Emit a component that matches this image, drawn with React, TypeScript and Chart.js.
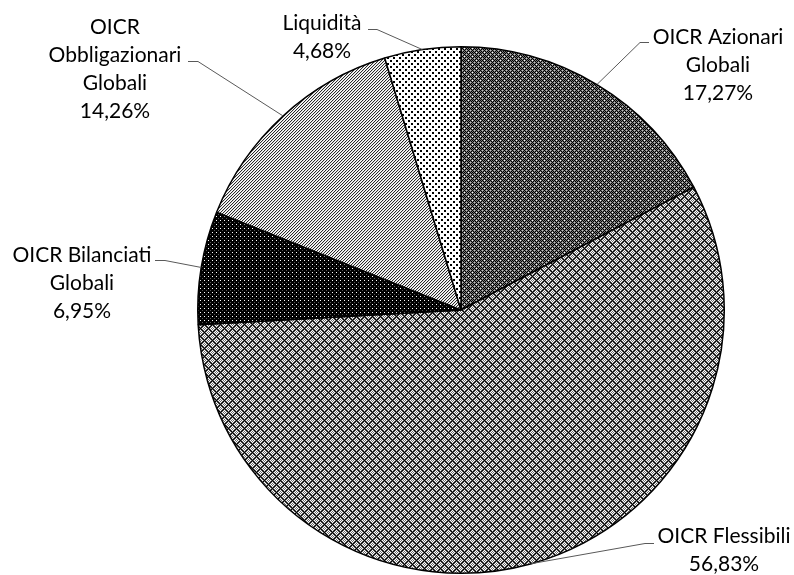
import React, { useEffect, useRef } from "react";
import { Chart, registerables } from "chart.js";

Chart.register(...registerables);

const categories: string[][] = [
  ["OICR Azionari", "Globali"],
  ["OICR Flessibili"],
  ["OICR Bilanciati", "Globali"],
  ["OICR", "Obbligazionari", "Globali"],
  ["Liquidità"],
];
const values: number[] = [17.27, 56.83, 6.95, 14.26, 4.68];

// label layout: text centre x, first baseline y, knee point, text-side end of the horizontal stub
const labelLayout = [
  { cx: 718, by: 44, kx: 640, ky: 42, hx: 649 },
  { cx: 724, by: 543, kx: 645, ky: 543, hx: 654 },
  { cx: 82, by: 262, kx: 165, ky: 260, hx: 155 },
  { cx: 115, by: 34, kx: 198, ky: 61, hx: 188 },
  { cx: 322, by: 30, kx: 377, ky: 29, hx: 368 },
];

function makePattern(size: number, fn: (x: number, y: number) => string): CanvasPattern {
  const c = document.createElement("canvas");
  c.width = size;
  c.height = size;
  const g = c.getContext("2d")!;
  for (let y = 0; y < size; y++) {
    for (let x = 0; x < size; x++) {
      g.fillStyle = fn(x, y);
      g.fillRect(x, y, 1, 1);
    }
  }
  return g.createPattern(c, "repeat")!;
}

function buildPatterns(): CanvasPattern[] {
  const azionari = makePattern(8, (x, y) => {
    if ((x === 0 && y === 0) || (x === 4 && y === 4)) return "#ffffff";
    if ((x === 2 && y === 2) || (x === 6 && y === 6) || (x === 2 && y === 6) || (x === 6 && y === 2)) return "#c0c0c0";
    return (x + y) % 2 === 0 ? "#000000" : "#7a7a7a";
  });
  const flessibili = makePattern(8, (x, y) => {
    if ((x + y) % 8 === 0 || (x - y + 8) % 8 === 0) return (x + y) % 2 === 0 ? "#000000" : "#ffffff";
    return (x + y) % 2 === 0 ? "#ffffff" : "#6a6a6a";
  });
  const bilanciati = makePattern(4, (x, y) => {
    if (x === 0 && y === 0) return "#ffffff";
    if (x === 2 && y === 2) return "#555555";
    return "#000000";
  });
  const obblig = makePattern(3, (x, y) => {
    const k = (x + y) % 3;
    return k === 0 ? "#2a2a2a" : k === 1 ? "#d8d8d8" : "#ffffff";
  });
  const liquidita = makePattern(6, (x, y) => {
    const a = x < 2 && y < 2;
    const b = x >= 3 && x < 5 && y >= 3 && y < 5;
    return a || b ? "#000000" : "#ffffff";
  });
  return [azionari, flessibili, bilanciati, obblig, liquidita];
}

const fmt = (v: number) => v.toFixed(2).replace(".", ",") + "%";

const labelPlugin = {
  id: "excelLabels",
  afterDraw(chart: any) {
    const ctx = chart.ctx as CanvasRenderingContext2D;
    const meta = chart.getDatasetMeta(0);
    ctx.save();
    meta.data.forEach((arc: any, i: number) => {
      const L = labelLayout[i];
      const mid = (arc.startAngle + arc.endAngle) / 2;
      const ex = arc.x + Math.cos(mid) * arc.outerRadius;
      const ey = arc.y + Math.sin(mid) * arc.outerRadius;
      ctx.strokeStyle = "#595959";
      ctx.lineWidth = 1;
      ctx.beginPath();
      ctx.moveTo(L.hx, L.ky + 0.5);
      ctx.lineTo(L.kx, L.ky + 0.5);
      ctx.lineTo(ex, ey);
      ctx.stroke();

      const lines = [...categories[i], fmt(values[i])];
      ctx.fillStyle = "#000000";
      ctx.font = "21px Lato";
      ctx.textAlign = "center";
      ctx.textBaseline = "alphabetic";
      lines.forEach((t, j) => ctx.fillText(t, L.cx, L.by + j * 28));
    });
    ctx.restore();
  },
};

export default function App() {
  const ref = useRef<HTMLCanvasElement>(null);
  useEffect(() => {
    const patterns = buildPatterns();
    const chart = new Chart(ref.current!, {
      type: "pie",
      data: {
        labels: categories.map((c) => c.join(" ")),
        datasets: [
          {
            data: values,
            backgroundColor: patterns,
            borderColor: "#000000",
            borderWidth: 1.5,
          },
        ],
      },
      options: {
        responsive: false,
        animation: false,
        layout: { padding: { left: 197, right: 69, top: 46, bottom: 1 } },
        plugins: { legend: { display: false }, tooltip: { enabled: false } },
      },
      plugins: [labelPlugin],
    });
    return () => chart.destroy();
  }, []);
  return (
    <div style={{ position: "fixed", left: 0, top: 0, width: 794, height: 575, background: "#fff" }}>
      <canvas ref={ref} width={794} height={575} />
    </div>
  );
}
